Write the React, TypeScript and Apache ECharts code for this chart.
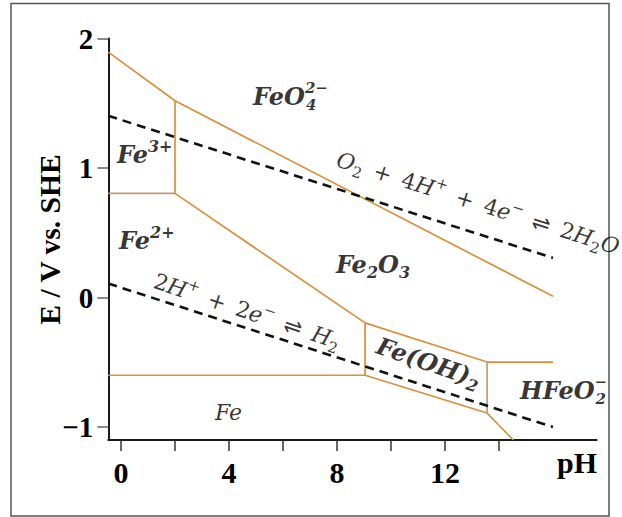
import React, { useEffect, useRef } from 'react';
import * as echarts from 'echarts';

// Axis ranges and ticks
const PH_RANGE = [-0.47, 17.62];
const E_RANGE = [-1.1, 2];
const PH_TICKS = [0, 2, 4, 6, 8, 10, 12, 14];
const PH_TICK_LABELS = [0, 4, 8, 12];
const E_TICKS = [-1, 0, 1, 2];

// Stability-domain boundaries, [pH, E / V]
const feo4Boundary = [[-0.47, 1.895], [2, 1.519], [16, 0.01]];
const fe3Fe2Boundary = [[-0.47, 0.804], [2, 0.804]];
const fe3Fe2o3Boundary = [[2, 0.804], [2, 1.519]];
const fe2Fe2o3Boundary = [[2, 0.804], [9.04, -0.196]];
const fe2FeBoundary = [[-0.47, -0.6], [9.04, -0.6]];
const fe2FeOH2Boundary = [[9.04, -0.6], [9.04, -0.196]];
const fe2o3LowerBoundary = [[9.04, -0.196], [13.56, -0.498], [16, -0.498]];
const feLowerBoundary = [[9.04, -0.6], [13.56, -0.892], [14.53, -1.1]];
const feOH2HfeO2Boundary = [[13.56, -0.892], [13.56, -0.498]];

// Water stability limits
const oxygenLine = [[-0.47, 1.403], [16, 0.306]];
const hydrogenLine = [[-0.47, 0.108], [16, -1.0]];

// Species and reaction labels (anchor in [pH, E]); "stack" tokens hold a charge
// above a subscript at the same horizontal position
const annotations = [
  { at: [4.89, 1.556], text: '{b|FeO}{stack|2−}{stacksub|4}', align: 'left', rotate: 0 },
  { at: [-0.15, 1.102], text: '{b|Fe}{bsup|3+}', align: 'left', rotate: 0 },
  { at: [-0.07, 0.443], text: '{b|Fe}{bsup|2+}', align: 'left', rotate: 0 },
  { at: [7.96, 0.253], text: '{b|Fe}{bsub|2}{b|O}{bsub|3}', align: 'left', rotate: 0 },
  { at: [11.4, -0.5], text: '{b|Fe(OH)}{bsub|2}', align: 'center', rotate: -19 },
  { at: [14.78, -0.714], text: '{b|HFeO}{stack|−}{stacksub|2}', align: 'left', rotate: 0 },
  { at: [3.48, -0.886], text: '{i|Fe}', align: 'left', rotate: 0 },
  {
    at: [13.22, 0.729],
    text: '{i|O}{isub|2}{r|\u2002+\u20024}{i|H}{isup|+}{r|\u2002+\u20024}{i|e}{isup|−}{r|\u2002}{eq|⇌}{r|\u20022}{i|H}{isub|2}{i|O}',
    align: 'center',
    rotate: -17.5,
  },
  {
    at: [4.67, -0.106],
    text: '{r|2}{i|H}{isup|+}{r|\u2002+\u20022}{i|e}{isup|−}{r|\u2002}{eq|⇌}{r|\u2002}{i|H}{isub|2}',
    align: 'center',
    rotate: -18.4,
  },
];

const SERIF = '"DejaVu Serif", serif';
const TICK_FONT = '"Liberation Serif", "Times New Roman", serif';
const ORANGE = '#D6913F';
const TAN = '#BE9C78';
const INK = '#000';

const bold = { fontFamily: SERIF, fontStyle: 'italic', fontWeight: 'bold', color: INK };
const rich = {
  b: { ...bold, fontSize: 24, lineHeight: 32 },
  bsub: { ...bold, fontSize: 16, lineHeight: 18, verticalAlign: 'bottom' },
  bsup: { ...bold, fontSize: 16, lineHeight: 20, verticalAlign: 'top' },
  stack: { ...bold, fontSize: 15, lineHeight: 16, verticalAlign: 'top', width: 1 },
  stacksub: { ...bold, fontSize: 15, lineHeight: 14, verticalAlign: 'bottom' },
  i: { fontFamily: SERIF, fontStyle: 'italic', fontSize: 22, lineHeight: 30, color: INK },
  r: { fontFamily: SERIF, fontSize: 22, lineHeight: 30, color: INK },
  eq: { fontFamily: '"DejaVu Sans", sans-serif', fontSize: 22, lineHeight: 30, color: INK },
  isub: { fontFamily: SERIF, fontSize: 15, lineHeight: 17, verticalAlign: 'bottom', color: INK },
  isup: { fontFamily: SERIF, fontSize: 15, lineHeight: 19, verticalAlign: 'top', color: INK },
};

function boundary(data: number[][], color: string, width = 1.7, type: any = 'solid') {
  return {
    type: 'line',
    data,
    symbol: 'none',
    silent: true,
    z: 3,
    lineStyle: { color, width, type },
  };
}

export default function App() {
  const ref = useRef<HTMLDivElement>(null);

  useEffect(() => {
    if (!ref.current) return;
    const chart = echarts.init(ref.current, null, { renderer: 'svg' });

    const option = {
      animation: false,
      backgroundColor: '#ffffff',
      grid: { left: 108.3, right: 25.3, top: 38.5, bottom: 77, containLabel: false },
      xAxis: {
        type: 'value',
        min: PH_RANGE[0],
        max: PH_RANGE[1],
        splitLine: { show: false },
        axisLine: { show: true, onZero: false, lineStyle: { color: '#1a1a1a', width: 2 } },
        axisTick: { show: true, length: 11, customValues: PH_TICKS, lineStyle: { color: '#333', width: 1.5 } },
        axisLabel: {
          customValues: PH_TICK_LABELS,
          margin: 17,
          fontFamily: TICK_FONT,
          fontWeight: 'bold',
          fontSize: 30,
          color: INK,
        },
      },
      yAxis: {
        type: 'value',
        min: E_RANGE[0],
        max: E_RANGE[1],
        splitLine: { show: false },
        axisLine: { show: true, onZero: false, lineStyle: { color: '#1a1a1a', width: 2 } },
        axisTick: { show: true, length: 11, customValues: E_TICKS, lineStyle: { color: '#666', width: 1.5 } },
        axisLabel: {
          customValues: E_TICKS,
          margin: 15,
          fontFamily: TICK_FONT,
          fontWeight: 'bold',
          fontSize: 29,
          color: INK,
          formatter: (v: number) => (v < 0 ? '−' + Math.abs(v) : String(v)),
        },
      },
      graphic: [
        {
          type: 'rect',
          shape: { x: 11, y: 3.5, width: 598, height: 512.5 },
          style: { fill: 'none', stroke: '#555', lineWidth: 1.5 },
          silent: true,
          z: -1,
        },
        {
          type: 'text',
          x: 49.6,
          y: 239.5,
          rotation: Math.PI / 2,
          style: {
            text: 'E / V vs. SHE',
            font: 'bold 29.5px "Liberation Serif", serif',
            fill: INK,
            align: 'center',
            verticalAlign: 'middle',
          },
        },
        {
          type: 'text',
          x: 577,
          y: 462,
          style: {
            text: 'pH',
            font: 'bold 30px "Liberation Serif", serif',
            fill: INK,
            align: 'center',
            verticalAlign: 'middle',
          },
        },
      ],
      series: [
        boundary(feo4Boundary, ORANGE),
        boundary(fe3Fe2Boundary, TAN),
        boundary(fe3Fe2o3Boundary, ORANGE),
        boundary(fe2Fe2o3Boundary, ORANGE),
        boundary(fe2FeBoundary, ORANGE),
        boundary(fe2FeOH2Boundary, ORANGE),
        boundary(fe2o3LowerBoundary, ORANGE),
        boundary(feLowerBoundary, ORANGE),
        boundary(feOH2HfeO2Boundary, TAN),
        boundary(oxygenLine, '#111', 2.6, [9, 6]),
        boundary(hydrogenLine, '#111', 2.6, [9, 6]),
        {
          type: 'scatter',
          silent: true,
          z: 5,
          symbol: 'circle',
          symbolSize: 1,
          itemStyle: { color: 'rgba(0,0,0,0)' },
          data: annotations.map((a) => ({
            value: a.at,
            label: {
              show: true,
              position: 'inside',
              formatter: a.text,
              align: a.align,
              verticalAlign: 'middle',
              rotate: a.rotate,
              rich,
            },
          })),
        },
      ],
    };

    chart.setOption(option as any);
    return () => chart.dispose();
  }, []);

  return (
    <div
      ref={ref}
      style={{ position: 'fixed', left: 0, top: 0, width: 622, height: 517, background: '#fff' }}
    />
  );
}
